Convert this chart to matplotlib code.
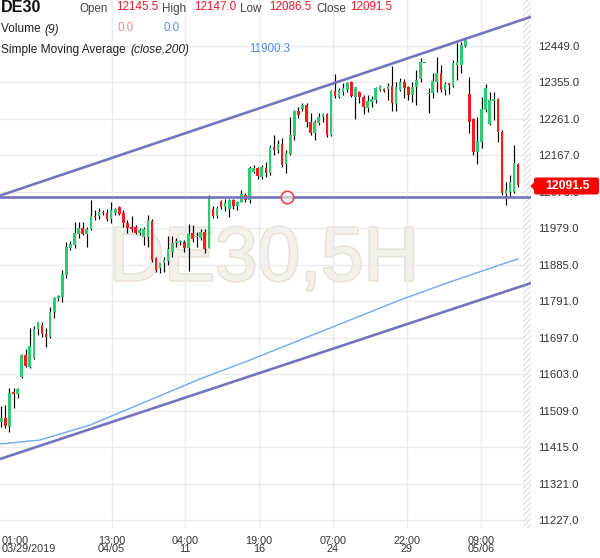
import matplotlib
matplotlib.use("Agg")
import matplotlib.pyplot as plt
import matplotlib.patheffects as pe
from matplotlib.patches import Rectangle, Polygon, FancyBboxPatch

plt.rcParams['font.family'] = ['Liberation Sans', 'DejaVu Sans']

# ---------------- data ----------------
opens = [11480.7, 11489.4, 11470.3, 11557.2, 11552.0, 11596.6, 11652.5, 11620.8, 11644.0, 11719.5,
         11729.9, 11705.9, 11699.7, 11762.5, 11798.6, 11802.8, 11858.7, 11929.0, 11936.0, 11963.6,
         11979.0, 11963.6, 11976.4, 12010.7, 12010.7, 12021.8, 12019.2, 12002.2, 12017.6, 12033.1,
         12017.6, 11991.9, 11983.1, 11981.6, 11966.1, 11957.4, 11955.8, 11998.6, 11901.7, 11875.9,
         11888.8, 11894.7, 11918.7, 11940.4, 11942.9, 11944.5, 11929.0, 11966.1, 11955.8, 11954.8,
         11968.7, 11929.0, 12029.1, 12010.2, 12049.4, 12034.7, 12029.1, 12051.9, 12037.3, 12047.6,
         12064.8, 12051.9, 12124.9, 12133.6, 12110.4, 12135.2, 12122.3, 12189.3, 12180.8, 12196.2,
         12144.7, 12170.5, 12216.8, 12282.1, 12285.7, 12296.7, 12253.7, 12225.4, 12249.6, 12265.0,
         12273.5, 12219.4, 12333.6, 12318.1, 12331.0, 12335.4, 12356.0, 12318.1, 12331.0, 12318.1,
         12288.2, 12303.7, 12309.6, 12335.4, 12338.0, 12337.2, 12345.7, 12299.3, 12335.4, 12356.8,
         12343.9, 12322.5, 12343.9, 12363.0, 12406.8, 12324.3, 12326.9, 12356.8, 12378.4, 12335.4,
         12352.6, 12345.7, 12399.8, 12399.8, 12448.8, 12325.1, 12259.9, 12176.4, 12202.2, 12283.9,
         12247.8, 12307.8, 12312.2, 12227.9, 12067.4, 12073.3, 12073.3, 12145.5]
highs = [11521.9, 11523.7, 11566.7, 11566.7, 11568.3, 11654.3, 11667.2, 11722.9, 11728.0, 11738.4,
         11736.8, 11721.3, 11777.0, 11802.8, 11807.1, 11871.6, 11944.5, 11947.1, 11996.0, 11996.0,
         11996.0, 11983.1, 12051.9, 12026.0, 12030.6, 12026.0, 12028.0, 12046.8, 12030.6, 12036.5,
         12026.0, 12000.4, 12010.7, 11987.5, 11979.0, 11981.6, 12013.3, 12002.2, 11905.9, 11890.4,
         11904.3, 11959.2, 11959.2, 11953.2, 11948.9, 11948.9, 11989.3, 11987.5, 11968.7, 11977.2,
         11977.2, 12064.8, 12037.6, 12037.6, 12051.9, 12054.5, 12054.5, 12054.5, 12049.4, 12077.7,
         12069.2, 12140.3, 12142.1, 12137.7, 12142.1, 12150.6, 12193.7, 12219.4, 12206.6, 12210.9,
         12180.8, 12266.6, 12283.9, 12292.4, 12302.7, 12301.1, 12275.4, 12258.1, 12276.9, 12276.9,
         12276.9, 12335.4, 12376.6, 12339.8, 12352.6, 12356.8, 12358.6, 12343.9, 12333.6, 12322.5,
         12322.5, 12319.9, 12343.9, 12348.3, 12339.8, 12352.6, 12397.2, 12356.8, 12365.5, 12362.9,
         12345.7, 12356.8, 12386.9, 12417.1, 12406.8, 12339.8, 12378.4, 12419.7, 12399.8, 12356.8,
         12354.2, 12412.7, 12457.3, 12459.8, 12472.7, 12368.1, 12262.5, 12266.6, 12318.1, 12350.8,
         12331.0, 12331.0, 12314.0, 12232.3, 12099.1, 12116.4, 12193.7, 12147.0]
lows = [11467.8, 11464.4, 11454.9, 11515.2, 11541.0, 11594.0, 11622.4, 11618.3, 11641.0, 11704.1,
        11699.7, 11673.9, 11697.0, 11748.7, 11791.7, 11788.3, 11851.7, 11923.1, 11927.5, 11953.2,
        11961.8, 11930.1, 11974.6, 12000.4, 12001.9, 12013.3, 11998.6, 11991.9, 12013.3, 12013.3,
        11983.1, 11966.1, 11970.3, 11964.3, 11961.8, 11936.0, 11931.6, 11892.9, 11867.2, 11863.0,
        11867.2, 11884.5, 11905.9, 11931.6, 11936.0, 11918.0, 11869.0, 11942.9, 11931.6, 11948.9,
        11914.6, 11927.5, 12005.0, 12005.1, 12028.7, 12023.6, 12008.9, 12028.7, 12026.2, 12046.0,
        12047.6, 12043.4, 12120.7, 12105.3, 12106.1, 12112.0, 12116.4, 12167.9, 12172.3, 12137.7,
        12122.3, 12167.9, 12206.6, 12262.5, 12282.1, 12240.8, 12219.4, 12206.6, 12245.2, 12253.7,
        12215.1, 12216.8, 12314.0, 12314.0, 12322.5, 12331.0, 12316.6, 12259.9, 12301.1, 12273.5,
        12279.5, 12292.4, 12301.1, 12333.6, 12331.0, 12309.6, 12282.1, 12282.1, 12333.6, 12314.0,
        12309.6, 12305.2, 12296.7, 12356.8, 12406.8, 12275.4, 12314.0, 12331.0, 12331.0, 12322.5,
        12325.1, 12343.9, 12361.2, 12380.0, 12447.0, 12223.8, 12167.9, 12144.7, 12185.2, 12279.5,
        12245.2, 12258.1, 12202.2, 12064.8, 12039.1, 12060.5, 12069.2, 12086.5]
closes = [11489.4, 11470.3, 11554.6, 11552.0, 11565.7, 11652.5, 11624.9, 11675.7, 11719.5, 11736.8,
          11705.9, 11699.7, 11762.5, 11798.6, 11804.6, 11861.3, 11930.1, 11938.6, 11966.1, 11979.0,
          11963.6, 11977.2, 12010.7, 12007.4, 12021.0, 12018.4, 12002.2, 12026.2, 12028.0, 12015.9,
          11991.9, 11979.0, 11976.4, 11967.7, 11974.6, 11976.4, 12000.4, 11897.3, 11871.6, 11888.8,
          11897.3, 11924.9, 11940.4, 11947.1, 11944.5, 11929.0, 11963.6, 11951.4, 11960.0, 11968.7,
          11925.7, 12060.5, 12010.2, 12031.6, 12034.7, 12043.5, 12051.9, 12037.3, 12047.6, 12066.6,
          12051.9, 12133.6, 12133.6, 12113.8, 12136.2, 12122.3, 12189.3, 12180.8, 12196.2, 12142.1,
          12173.8, 12219.4, 12282.1, 12271.0, 12296.7, 12253.7, 12225.4, 12253.7, 12266.6, 12273.5,
          12219.4, 12333.6, 12320.0, 12335.4, 12339.8, 12354.2, 12320.0, 12342.3, 12316.6, 12290.8,
          12307.0, 12311.4, 12339.8, 12345.7, 12333.6, 12345.7, 12301.1, 12343.9, 12356.8, 12339.8,
          12322.5, 12343.9, 12361.2, 12408.3, 12406.8, 12328.4, 12358.5, 12378.4, 12335.4, 12350.8,
          12348.3, 12404.2, 12408.3, 12451.4, 12468.6, 12253.7, 12176.4, 12204.0, 12285.7, 12339.8,
          12309.6, 12312.2, 12227.9, 12069.2, 12077.7, 12099.1, 12146.5, 12091.5]

# simple moving average (close,200) read at a few candle positions
sma_idx = [-0.3, 9.5, 21.8, 36.5, 48.8, 61.1, 73.4, 85.7, 98.0, 110.2, 122.5, 127.0]
sma_val = [11423.2, 11433.5, 11472.1, 11536.6, 11590.7, 11639.7, 11691.2, 11742.7, 11794.3,
           11840.7, 11884.5, 11900.3]

price_ticks = [11227.0, 11321.0, 11415.0, 11509.0, 11603.0, 11697.0, 11791.0, 11885.0,
               11979.0, 12073.0, 12167.0, 12261.0, 12355.0, 12449.0]
time_tick_pos = [27.1, 45.2, 63.3, 81.5, 99.6, 117.8]
time_tick_labels = ["13:00\n04/05", "04:00\n11", "19:00\n16", "07:00\n24", "22:00\n29", "09:00\n05/06"]
first_label = "01:00\n03/29/2019"

# drawn trend lines (index, price) pairs and horizontal level
upper_line = [(-0.32, 12063.3), (130.15, 12524.0)]
lower_line = [(-0.32, 11384.5), (130.15, 11838.0)]
h_level = 12060.4
marker_pt = (70.2, 12060.4)

header = dict(symbol="DE30", open="12145.5", high="12147.0", low="12086.5", close="12091.5",
              vol1="0.0", vol2="0.0", sma="11900.3", last="12091.5")

# ---------------- figure ----------------
W, H = 600, 558
fig = plt.figure(figsize=(6.0, 5.58), dpi=100)
fig.patch.set_facecolor('white')
ax = fig.add_axes([0, 1 - 528 / H, 531 / W, 528 / H])
ax.set_facecolor('white')
XMIN, XMAX = -0.32, 130.15
YMIN, YMAX = 11206.8, 12567.3
ax.set_xlim(XMIN, XMAX)
ax.set_ylim(YMIN, YMAX)
for s in ax.spines.values():
    s.set_visible(False)

GRID = '#ececec'
for p in price_ticks:
    ax.axhline(p, color=GRID, lw=1.0, zorder=0.5)
for t in time_tick_pos:
    ax.axvline(t, color=GRID, lw=1.0, zorder=0.5)

# hatched future strip
ax.add_patch(Rectangle((128.1, YMIN), XMAX - 128.1, YMAX - YMIN, facecolor='none',
                       edgecolor='#e2e2e2', hatch='//////', lw=0, zorder=0.4))

# watermark
ax.text(0.497, 0.506, "DE30,5H", transform=ax.transAxes, ha='center', va='center',
        fontsize=55, color='#f4f0ea', zorder=0.3,
        path_effects=[pe.withStroke(linewidth=2.2, foreground='#e8e1d5')])

# candles
n = len(closes)
xs = list(range(n))
ax.vlines(xs, lows, highs, color='black', lw=0.85, zorder=2)
minh = 2.6
for i in xs:
    o, c = opens[i], closes[i]
    if c > o:
        col = '#2ecc71'
    elif c < o:
        col = '#ff1a1a'
    else:
        col = '#555555'
    bot = min(o, c)
    h = max(abs(c - o), minh)
    if c == o:
        bot -= minh / 2
    ax.add_patch(Rectangle((i - 0.32, bot), 0.64, h, facecolor=col, edgecolor='none', zorder=3))

# SMA
ax.plot(sma_idx, sma_val, color='#6fa8f5', lw=1.0, zorder=1.5)

# trend lines
LINE = '#7474bb'
ax.plot([upper_line[0][0], upper_line[1][0]], [upper_line[0][1], upper_line[1][1]],
        color=LINE, lw=1.9, zorder=4, solid_capstyle='butt')
ax.plot([lower_line[0][0], lower_line[1][0]], [lower_line[0][1], lower_line[1][1]],
        color=LINE, lw=1.9, zorder=4, solid_capstyle='butt')
ax.axhline(h_level, color=LINE, lw=1.9, zorder=4)
ax.plot([marker_pt[0]], [marker_pt[1]], marker='o', ms=9, mfc=(1, 1, 1, 0.55),
        mec='#e8474c', mew=1.2, zorder=5)

# axes ticks
ax.yaxis.tick_right()
ax.set_yticks(price_ticks)
ax.set_yticklabels([f"{p:.1f}" for p in price_ticks])
ax.tick_params(axis='y', length=0, pad=5.0, labelsize=8.2, labelcolor='#333333')
ax.set_xticks(time_tick_pos)
ax.set_xticklabels(time_tick_labels, linespacing=0.85)
ax.tick_params(axis='x', length=0, pad=5.5, labelsize=7.8, labelcolor='#333333')


def fx(px):
    return px / W


def fy(py):
    return 1 - py / H


fig.text(fx(2), fy(528 + 5.5 * 100 / 72), first_label, ha='left', va='top', fontsize=7.8,
         color='#333333', linespacing=0.85, multialignment='left')

# header texts
TXT = '#444444'
RED = '#ee1c25'
fig.text(fx(1), fy(7.5), header['symbol'], fontsize=11.6, fontweight='bold', color='#111111',
         ha='left', va='center')
for lab, xl, val, xv in [("Open", 80, header['open'], 116), ("High", 162, header['high'], 194),
                         ("Low", 240, header['low'], 269), ("Close", 316, header['close'], 350)]:
    fig.text(fx(xl), fy(9.2), lab, fontsize=8.4, color=TXT, ha='left', va='center')
    fig.text(fx(xv), fy(7.2), val, fontsize=8.4, color=RED, ha='left', va='center')
fig.text(fx(1), fy(29.5), "Volume ", fontsize=8.6, color='#222222', ha='left', va='center')
fig.text(fx(44), fy(29.5), "(9)", fontsize=8.6, color='#222222', ha='left', va='center',
         style='italic')
fig.text(fx(118), fy(28), header['vol1'], fontsize=8.4, color='#f28a8a', ha='left', va='center')
fig.text(fx(163), fy(28), header['vol2'], fontsize=8.4, color='#5b8def', ha='left', va='center')
fig.text(fx(1), fy(50.5), "Simple Moving Average ", fontsize=8.6, color='#222222', ha='left',
         va='center')
fig.text(fx(130), fy(50.5), "(close,200)", fontsize=8.6, color='#222222', ha='left', va='center',
         style='italic')
fig.text(fx(249), fy(49), header['sma'], fontsize=8.4, color='#4a8fe8', ha='left', va='center')

# last price tag
tag_color = '#ff0000'
box = FancyBboxPatch((fx(534), fy(194.5)), fx(599) - fx(534), fy(177.5) - fy(194.5),
                     boxstyle='round,pad=0,rounding_size=0.004', transform=fig.transFigure,
                     facecolor=tag_color, edgecolor='none')
fig.add_artist(box)
tri = Polygon([(fx(530.5), fy(186)), (fx(535), fy(181)), (fx(535), fy(191))], closed=True,
              transform=fig.transFigure, facecolor=tag_color, edgecolor='none')
fig.add_artist(tri)
fig.text(fx(567), fy(186), header['last'], fontsize=8.8, fontweight='bold', color='white',
         ha='center', va='center')

fig.savefig('out.png', dpi=100, facecolor='white')
